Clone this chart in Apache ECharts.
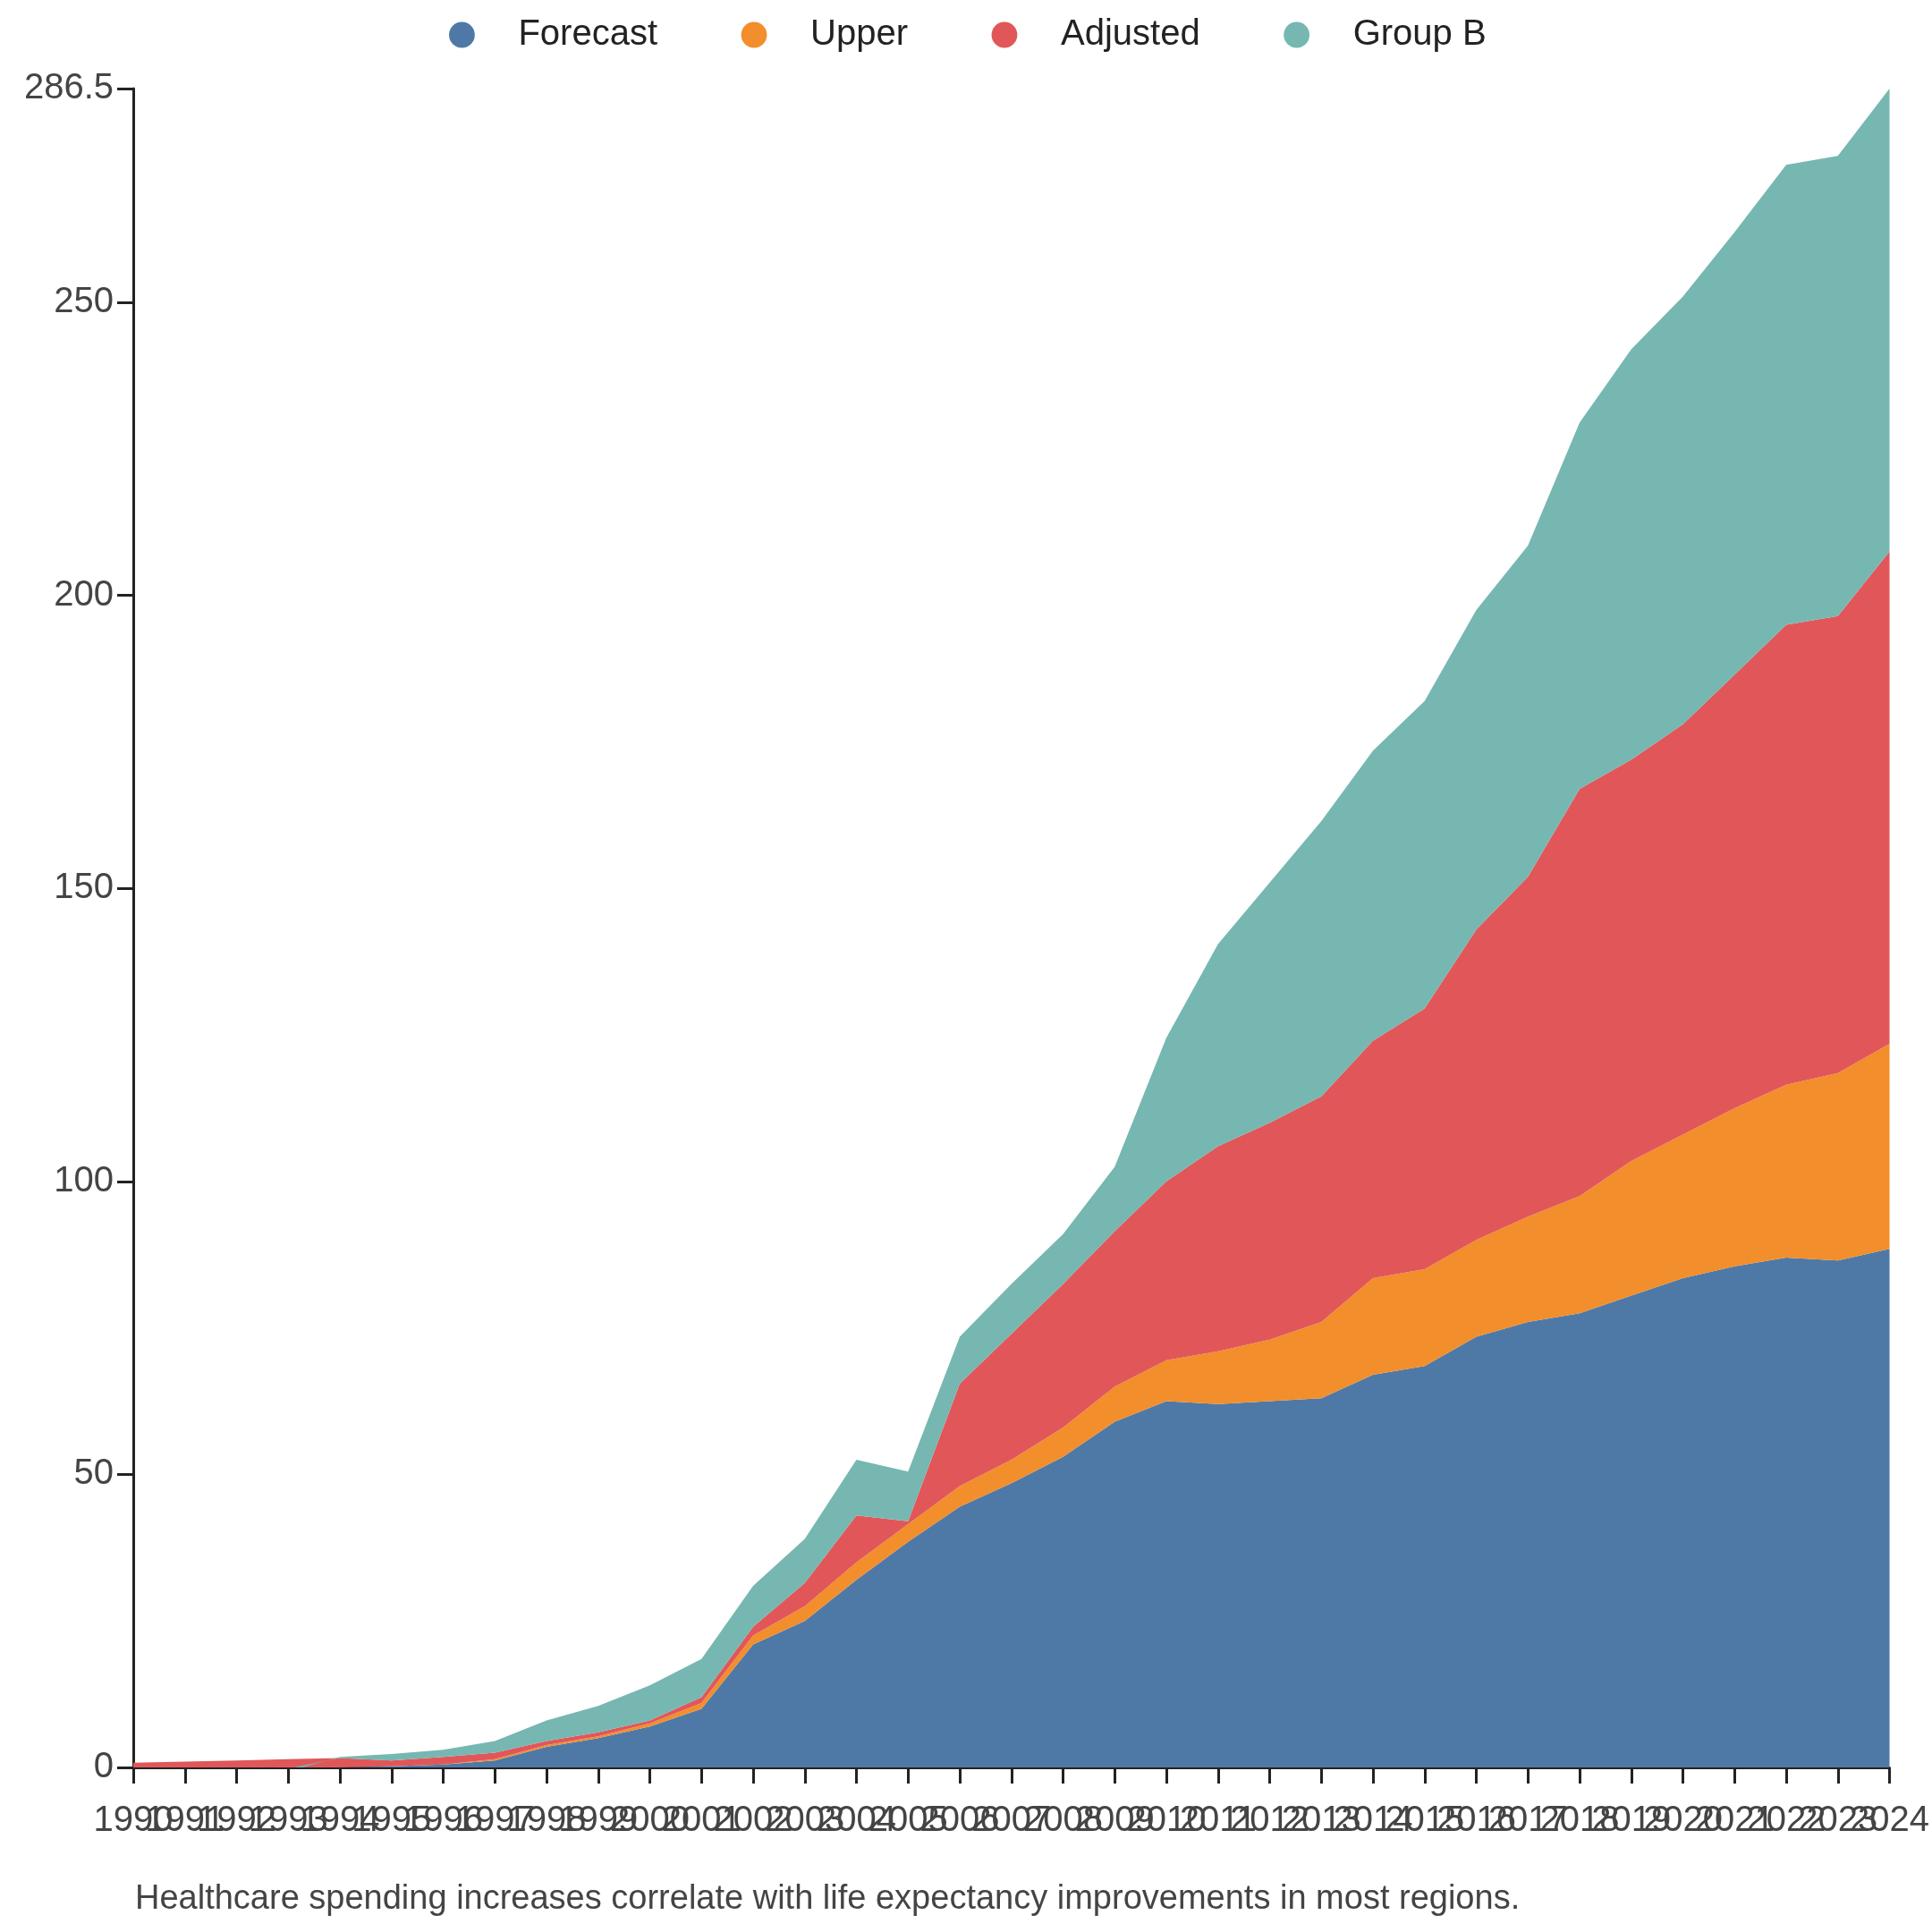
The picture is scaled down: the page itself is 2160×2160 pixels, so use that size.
<!DOCTYPE html>
<html>
<head>
<meta charset="utf-8">
<script src="https://cdn.jsdelivr.net/npm/echarts@6/dist/echarts.min.js"></script>
<style>body{margin:0}#chart{width:2160px;height:2160px}</style>
</head>
<body>
<div id="chart"></div>
<script>
var years = [];
for (var y = 1990; y <= 2024; y++) years.push(String(y));

var forecast = [-0.3,-0.3,-0.3,-0.2,0,0.2,0.5,1.2,3.5,5,7,10,21,25,32,38.5,44.5,48.5,53,59,62.5,62,62.5,63,67,68.5,73.5,76,77.5,80.5,83.5,85.5,87,86.5,88.5];
var upper = [0,0,0,0,0,0,0,0.2,0.3,0.3,0.5,1,1.5,2.5,3,3,3.5,4,5,6,7,9,10.5,13,16.5,16.5,16.5,18,20,23,24.5,27,29.5,32,35];
var adjusted = [0.8,1,1.2,1.4,1.6,1,1.3,1.1,0.7,0.7,0.5,1,1.5,4,8,0.5,17.5,21.5,24.5,26.5,30.5,35,37,38.5,40.5,44.5,53,58,69.5,68.5,70,74,78.5,78,84];
var groupB = [-0.5,-0.5,-0.5,-0.5,0.2,1.1,1.2,2,3.5,4.5,6,6.5,7,7.5,9.5,8.5,8,8.5,8.5,11,24.5,34.5,41,47,49.5,52.5,54.5,56.5,62.5,70,73,75.5,78.5,78.5,79];

var names = ['Forecast', 'Upper', 'Adjusted', 'Group B'];
var colors = ['#4e79a7', '#f28e2b', '#e15759', '#76b7b2'];
var values = [forecast, upper, adjusted, groupB];

var series = [];
for (var i = 0; i < names.length; i++) {
    series.push({
        name: names[i],
        type: 'line',
        stack: 'total',
        data: values[i],
        symbol: 'none',
        lineStyle: { width: 0 },
        areaStyle: { color: colors[i], opacity: 1 },
        itemStyle: { color: colors[i] }
    });
}

var myChart = echarts.init(document.getElementById('chart'));
myChart.setOption({
    animation: false,
    textStyle: { fontFamily: 'Arial, Liberation Sans, sans-serif' },
    legend: {
        top: 14,
        left: 'center',
        itemWidth: 36,
        itemHeight: 36,
        itemGap: 90,
        textStyle: { fontSize: 40, color: '#222', padding: [0, 0, 0, 40] },
        data: names
    },
    title: {
        text: 'Healthcare spending increases correlate with life expectancy improvements in most regions.',
        left: 146,
        top: 2100,
        textStyle: { fontSize: 38, fontWeight: 'normal', color: '#444' }
    },
    grid: { left: 149, right: 41, top: 99, bottom: 184 },
    xAxis: {
        type: 'category',
        boundaryGap: false,
        data: years,
        axisLine: { lineStyle: { color: '#222', width: 3 } },
        axisTick: { alignWithLabel: true, length: 18, lineStyle: { color: '#222', width: 3 } },
        axisLabel: { interval: 0, fontSize: 40, color: '#444', margin: 40 }
    },
    yAxis: {
        type: 'value',
        min: 0,
        max: 'dataMax',
        interval: 50,
        splitLine: { show: false },
        axisLine: { show: true, lineStyle: { color: '#222', width: 3 } },
        axisTick: { show: true, length: 18, lineStyle: { color: '#222', width: 3 } },
        axisLabel: { fontSize: 40, color: '#444', margin: 22 }
    },
    series: series
});
</script>
</body>
</html>
